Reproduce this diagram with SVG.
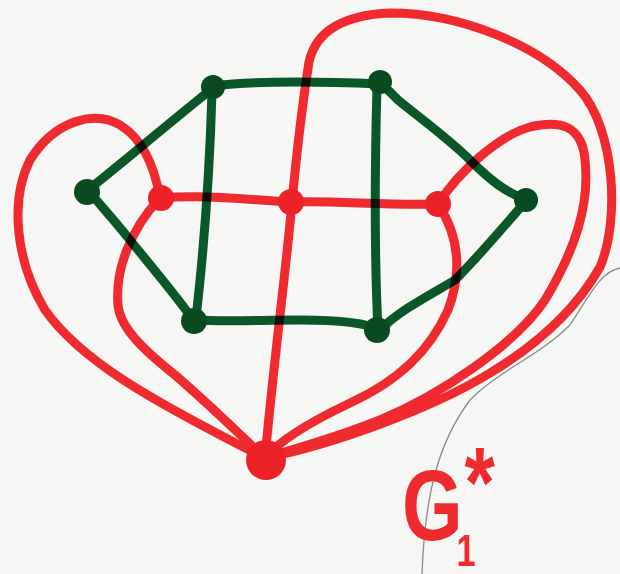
<svg xmlns="http://www.w3.org/2000/svg" width="620" height="574" viewBox="0 0 620 574">
<style>
.r{fill:none;stroke:#ef2b2f;stroke-width:9;stroke-linecap:round;stroke-linejoin:round}
.g{fill:none;stroke:#0c5a2a;stroke-width:9;stroke-linecap:round;stroke-linejoin:round}
.gn{fill:#0a4a20}
.rn{fill:#ec2228}
.lbl{font-family:"Liberation Sans",Arial,sans-serif;fill:#ef2b2f;font-weight:bold}
</style>
<rect width="620" height="574" fill="#f6f6f4"/>
<path d="M620,268 C600,272 590,295 570,325 C540,355 500,370 470,400 C440,440 425,490 422,574" fill="none" stroke="#8a8a88" stroke-width="1.3"/>
<g id="connectors">
<g id="red-edges">
<path class="r" d="M160,198 C205,194 250,200 292,202 C330,200 390,206 438,204"/>
<path class="r" d="M292,202 C286,270 274,360 265,458"/>
<path class="r" d="M292,202 C297,150 303,100 309,62 C316,30 345,15 390,13 C460,13 540,45 580,90 C615,130 620,220 600,267 C570,320 520,355 490,373 C430,410 330,445 265,458"/>
<path class="r" d="M438,204 C460,170 500,135 530,127 C560,120 582,125 585,160 C590,205 575,250 545,300 C515,345 440,395 380,420 C330,440 290,450 265,458"/>
<path class="r" d="M438,204 C455,230 465,265 448,310 C430,350 400,380 350,403 C310,422 280,440 265,458"/>
<path class="r" d="M160,198 C130,230 115,270 118,305 C120,330 150,355 175,375 C210,405 240,435 265,458"/>
<path class="r" d="M160,198 C155,170 145,140 120,125 C95,110 55,120 30,160 C10,200 15,260 45,310 C80,360 150,400 265,458"/>
</g>
<g id="green-edges" style="mix-blend-mode:multiply">
<path class="g" d="M88,190 C120,165 175,118 213,88"/>
<path class="g" d="M213,86 C260,80 330,82 380,84"/>
<path class="g" d="M382,84 L398,100 C420,118 450,140 470,160 C490,180 505,192 527,200"/>
<path class="g" d="M527,200 C505,225 480,255 455,280 C430,295 400,310 380,330"/>
<path class="g" d="M380,330 C365,322 330,320 300,320 C260,320 230,322 193,320"/>
<path class="g" d="M193,320 C180,300 150,265 130,240 C110,215 100,205 88,190"/>
<path class="g" d="M212,92 C210,160 205,240 196,318"/>
<path class="g" d="M377,85 C375,160 374,250 378,330"/>
</g>
</g>
<g id="R1"><circle class="rn" cx="161" cy="198" r="13"/></g>
<g id="R2"><circle class="rn" cx="291" cy="202" r="13"/></g>
<g id="R3"><circle class="rn" cx="438" cy="204" r="13"/></g>
<g id="R4"><circle class="rn" cx="266" cy="460" r="20"/></g>
<g id="A"><circle class="gn" cx="87" cy="192" r="13"/></g>
<g id="B"><circle class="gn" cx="213" cy="87" r="12"/></g>
<g id="C"><circle class="gn" cx="380" cy="82" r="12"/></g>
<g id="D"><circle class="gn" cx="526" cy="200" r="12"/></g>
<g id="E"><circle class="gn" cx="377" cy="330" r="13"/></g>
<g id="F"><circle class="gn" cx="194" cy="321" r="13"/></g>
<g id="label">
<text class="lbl" x="402" y="540" font-size="100" transform="translate(402,0) scale(0.78,1) translate(-402,0)">G<tspan font-size="44" dx="-8" dy="26">1</tspan><tspan font-size="100" dx="-14" dy="-49">*</tspan></text>
</g>
</svg>
